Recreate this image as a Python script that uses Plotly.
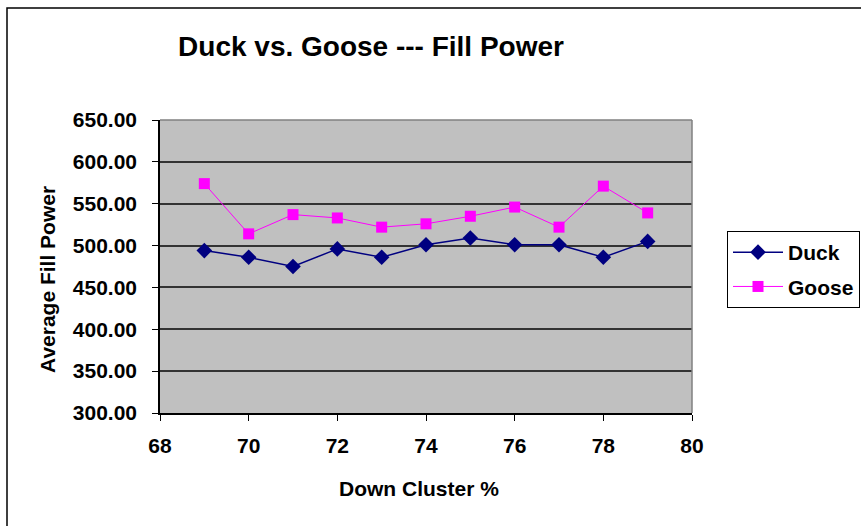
import plotly.graph_objects as go

cluster = [69, 70, 71, 72, 73, 74, 75, 76, 77, 78, 79]
duck = [494, 486, 475, 496, 486, 501, 509, 501, 501, 486, 505]
goose = [574, 514, 537, 533, 522, 526, 535, 546, 522, 571, 539]
y_ticks = [300, 350, 400, 450, 500, 550, 600, 650]
x_ticks = [68, 70, 72, 74, 76, 78, 80]

FONT = "Arial, 'Liberation Sans', sans-serif"
W, H = 861, 526
L, R, T, B = 160, 692, 120, 413

def px(x):
    return (x - L) / (R - L)

def py(y):
    return (B - y) / (B - T)

fig = go.Figure()
fig.add_trace(go.Scatter(
    x=cluster, y=duck, name="<b>Duck</b>", mode="lines+markers", legendgroup="d",
    line=dict(color="#000080", width=1.5),
    marker=dict(symbol="diamond", size=12, color="#000080"),
))
fig.add_trace(go.Scatter(
    x=cluster, y=goose, name="<b>Goose</b>", mode="lines+markers", legendgroup="g",
    line=dict(color="#FF00FF", width=1),
    marker=dict(symbol="square", size=11, color="#FF00FF"),
))

fig.update_layout(
    width=W, height=H,
    margin=dict(l=L, r=W - R, t=T, b=H - B, pad=0, autoexpand=False),
    paper_bgcolor="white",
    plot_bgcolor="#C0C0C0",
    font=dict(family=FONT, size=21, color="black"),
    title=dict(
        text="<b>Duck vs. Goose --- Fill Power</b>",
        font=dict(family=FONT, size=28, color="black"),
        x=371 / W, xref="container", xanchor="center",
        y=1 - 46 / H, yref="container", yanchor="middle",
    ),
    xaxis=dict(
        range=[68, 80], tickmode="array", tickvals=x_ticks,
        ticktext=[f"<b>{v}</b>" for v in x_ticks],
        showgrid=False, zeroline=False,
        showline=True, linecolor="black", linewidth=1.5,
        ticks="outside", ticklen=6, tickcolor="black",
        tickfont=dict(family=FONT, size=21),
        ticklabelstandoff=7,
    ),
    yaxis=dict(
        range=[300, 650], tickmode="array", tickvals=y_ticks,
        ticktext=[f"<b>{v:.2f}</b>" for v in y_ticks],
        showgrid=True, gridcolor="#333333", gridwidth=1.5,
        zeroline=False,
        showline=True, linecolor="black", linewidth=1.5,
        ticks="outside", ticklen=6, tickcolor="black",
        tickfont=dict(family=FONT, size=21),
        ticklabelstandoff=11,
    ),
    legend=dict(
        x=727 / W, y=1 - 231 / H, xref="container", yref="container",
        xanchor="left", yanchor="top",
        bgcolor="white", bordercolor="black", borderwidth=1,
        font=dict(family=FONT, size=21, color="black"),
        itemwidth=50,
        tracegroupgap=4,
    ),
    showlegend=True,
)

# axis titles as annotations (positioned like the original)
fig.add_annotation(text="<b>Down Cluster %</b>", xref="paper", yref="paper",
                   x=px(419), y=py(489), xanchor="center", yanchor="middle",
                   showarrow=False, font=dict(family=FONT, size=21, color="black"))
fig.add_annotation(text="<b>Average Fill Power</b>", xref="paper", yref="paper",
                   x=px(47), y=py(280), xanchor="center", yanchor="middle", textangle=-90,
                   showarrow=False, font=dict(family=FONT, size=21, color="black"))

# plot-area top/right gray border
fig.add_shape(type="line", xref="paper", yref="paper", x0=0, x1=1, y0=1, y1=1,
              line=dict(color="#808080", width=1.5))
fig.add_shape(type="line", xref="paper", yref="paper", x0=1, x1=1, y0=0, y1=1,
              line=dict(color="#808080", width=1.5))
# outer chart border
fig.add_shape(type="rect", xref="paper", yref="paper",
              x0=px(7), x1=px(875), y0=py(540), y1=py(8),
              line=dict(color="black", width=1.5), fillcolor="rgba(0,0,0,0)", layer="below")

fig.write_html("out.html", config={"displayModeBar": False},
               post_script="document.body.style.margin='0';")
